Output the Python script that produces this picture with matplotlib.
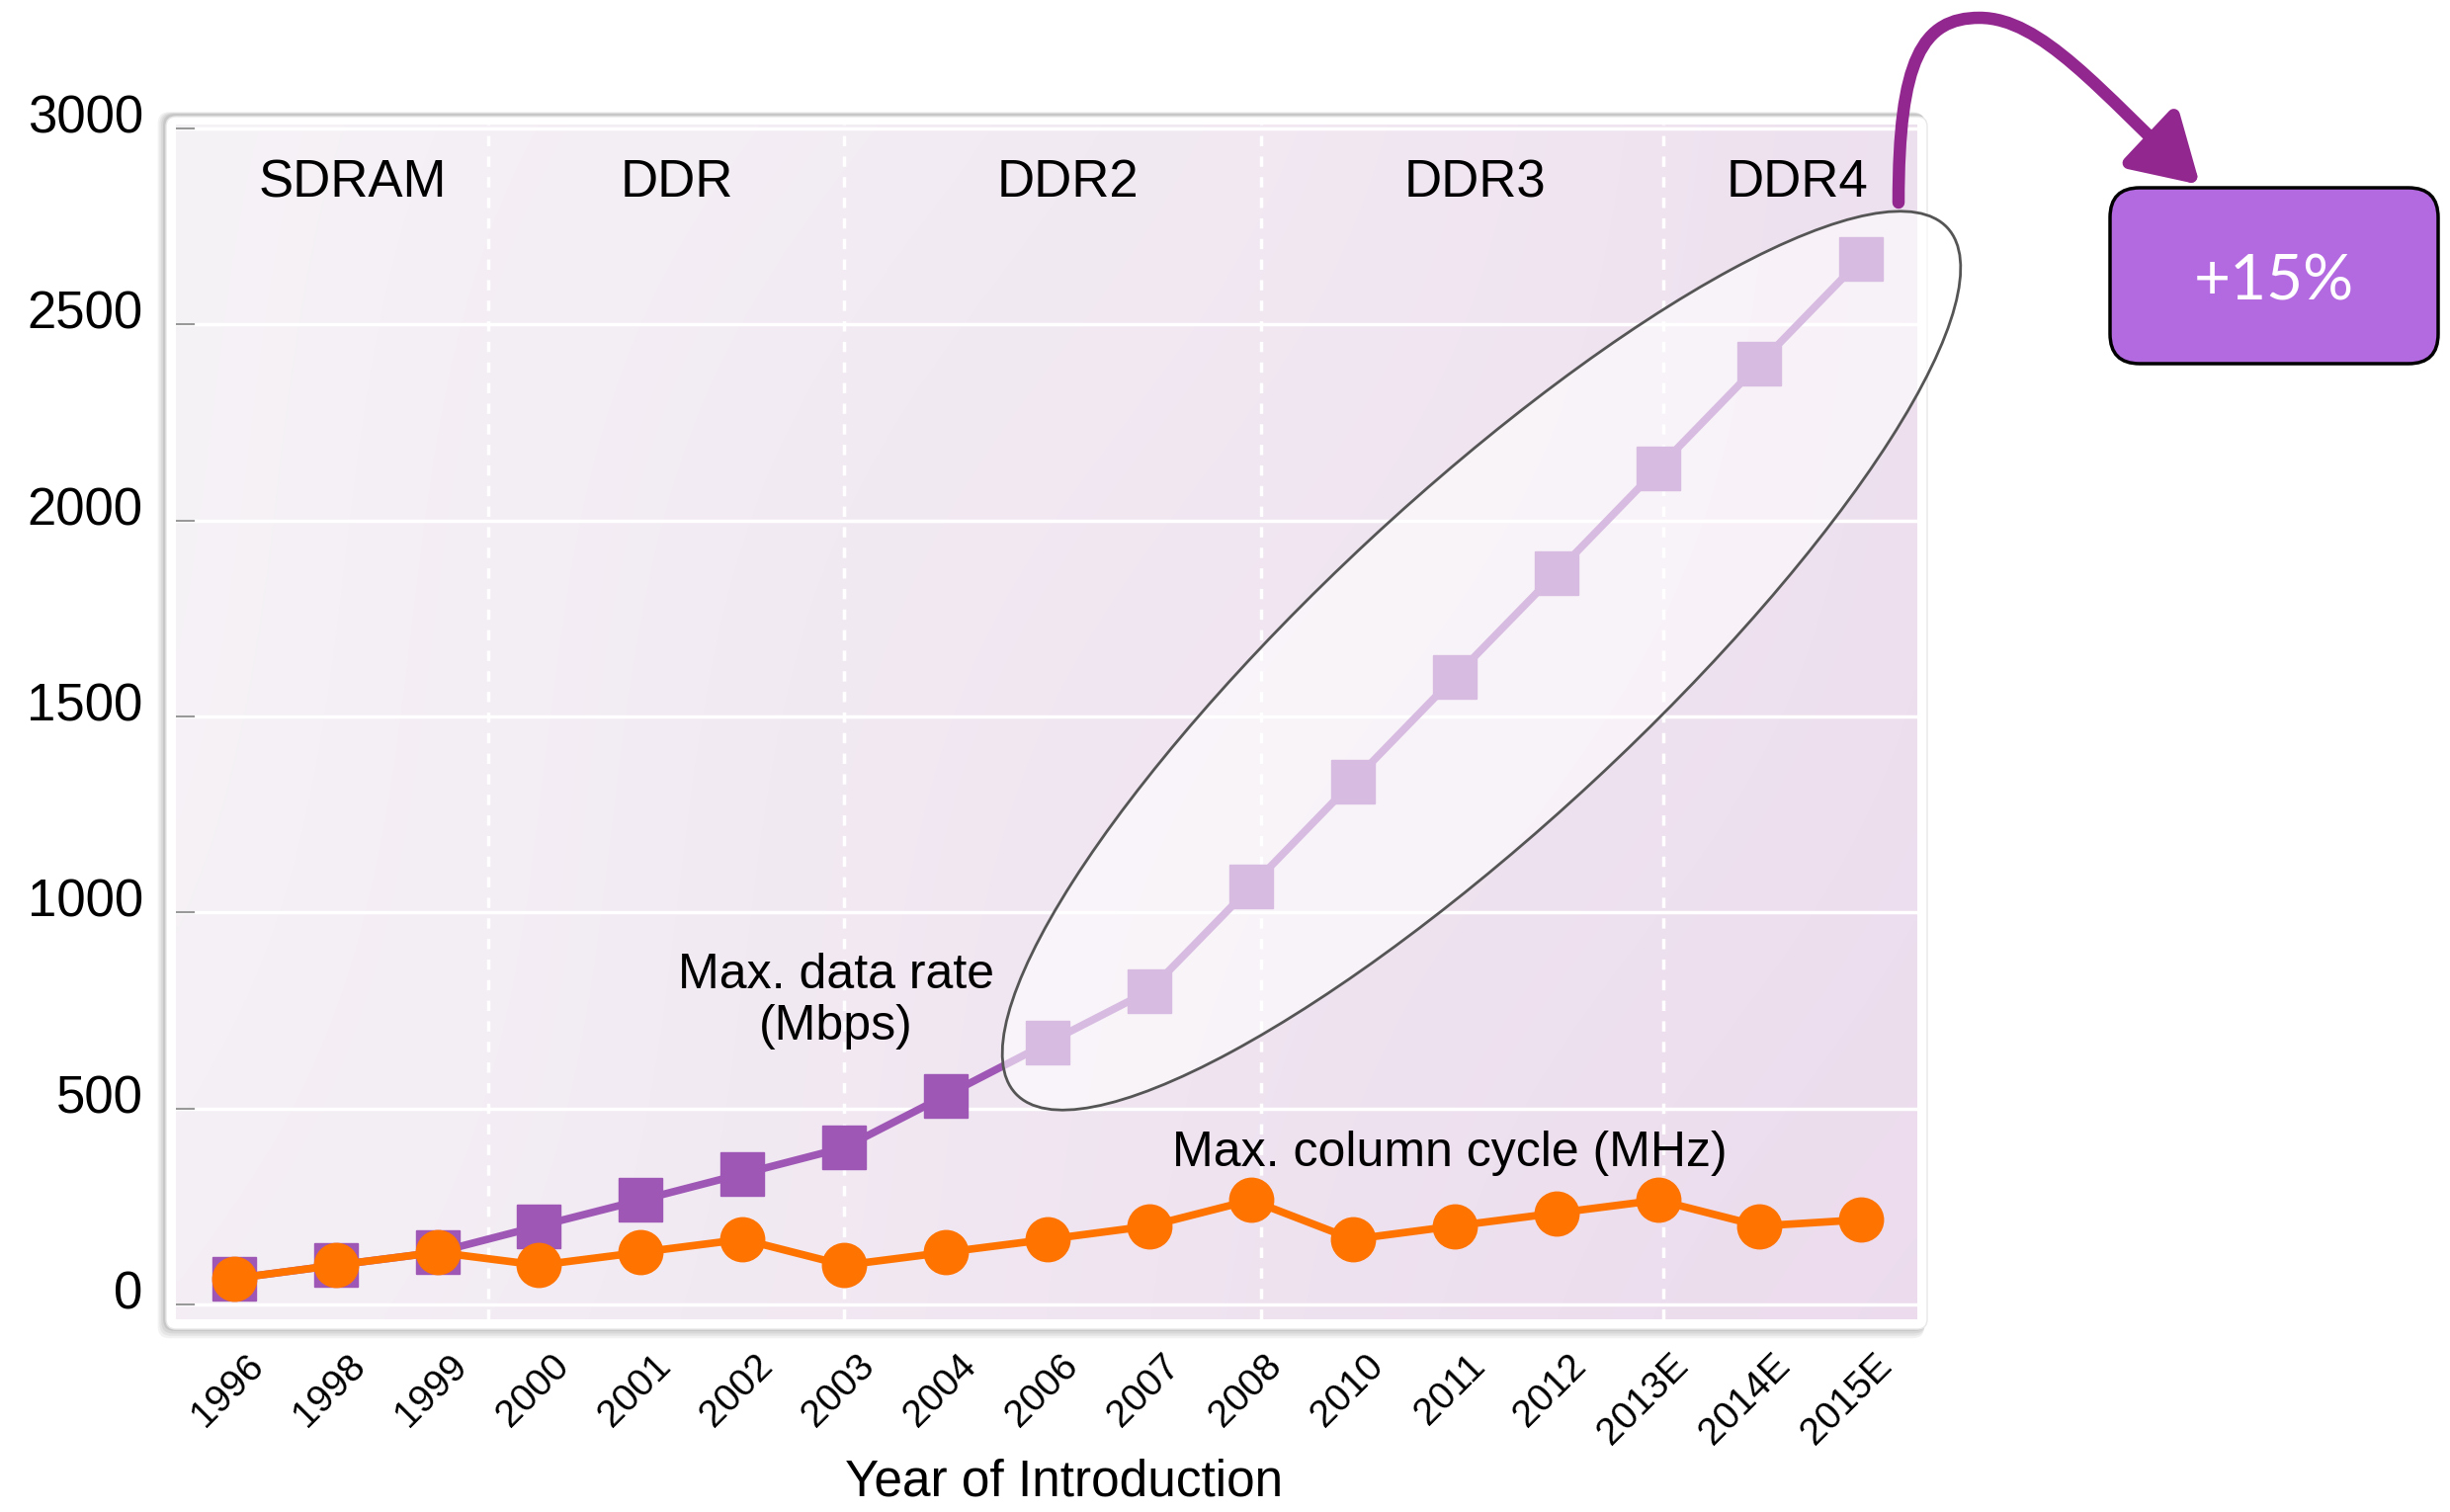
import numpy as np
import matplotlib.pyplot as plt
from matplotlib.patches import Ellipse, FancyBboxPatch, FancyArrowPatch
from matplotlib.path import Path
from matplotlib.transforms import ScaledTranslation

plt.rcParams['font.family'] = ['Liberation Sans', 'DejaVu Sans']

# data
years = ['1996', '1998', '1999', '2000', '2001', '2002', '2003', '2004', '2006',
         '2007', '2008', '2010', '2011', '2012', '2013E', '2014E', '2015E']
data_rate = [66, 100, 133, 200, 266, 333, 400, 533, 667, 800, 1066, 1333, 1600,
             1866, 2133, 2400, 2667]
col_cycle = [66, 100, 133, 100, 133, 166, 100, 133, 166, 200, 266, 166, 200,
             233, 266, 200, 216]
generations = ['SDRAM', 'DDR', 'DDR2', 'DDR3', 'DDR4']
gen_pos = [1.17, 4.35, 8.2, 12.2, 15.37]
gen_bounds = [2.5, 6.0, 10.1, 14.05]
yticks = [0, 500, 1000, 1500, 2000, 2500, 3000]

W, H = 2479, 1530
fig = plt.figure(figsize=(W / 100, H / 100), dpi=100)
inch = fig.dpi_scale_trans


def px(x, y):
    # pixel (from top-left) -> inches (from bottom-left)
    return x / 100, (H - y) / 100


ax_l, ax_r, ax_t, ax_b = 178, 1940, 126, 1335
ax = fig.add_axes([ax_l / W, 1 - ax_b / H, (ax_r - ax_l) / W, (ax_b - ax_t) / H])

# panel frame + soft shadow
for i, a in enumerate([0.05, 0.05, 0.06, 0.07]):
    g = 14 - 3 * i
    fig.add_artist(FancyBboxPatch(px(ax_l - 10 - g * 0.6, ax_b + 8 + g * 0.8),
                                  (ax_r - ax_l + 20 + g * 0.4) / 100,
                                  (ax_b - ax_t + 18 + g) / 100,
                                  boxstyle='round,pad=0,rounding_size=0.12',
                                  transform=inch, fc='black', ec='none',
                                  alpha=a, zorder=-3))
fig.add_artist(FancyBboxPatch(px(ax_l - 10, ax_b + 10), (ax_r - ax_l + 20) / 100,
                              (ax_b - ax_t + 18) / 100,
                              boxstyle='round,pad=0,rounding_size=0.1',
                              transform=inch, fc='white', ec='#e8e8e8', lw=1, zorder=-2))

xlim = (-0.57, 16.55)
ylim = (-38, 3010)
x = np.arange(len(years))

# background gradient
nx, ny = 300, 150
gx, gy = np.meshgrid(np.linspace(0, 1, nx), np.linspace(1, 0, ny))
t = np.clip(0.8 * gx + 0.2 * (1 - gy) - 0.03 * np.sin(gx * 6 + gy * 4), 0, 1)
c0 = np.array([0.965, 0.955, 0.968])
c1 = np.array([0.925, 0.862, 0.930])
img = c0 + (c1 - c0) * t[..., None]
ax.imshow(img, extent=[xlim[0], xlim[1], ylim[0], ylim[1]], aspect='auto',
          zorder=0, interpolation='bilinear')

for yv in yticks:
    ax.axhline(yv, color='white', lw=2.5, zorder=1)
for b in gen_bounds:
    ax.axvline(b, color='white', lw=2.5, ls=(0, (3, 3)), zorder=1)

ax.plot(x, data_rate, color='#9e57b5', lw=5.5, marker='s', ms=31, zorder=3)
ax.plot(x, col_cycle, color='#ff7300', lw=5.5, marker='o', ms=32, zorder=4)

for name, p in zip(generations, gen_pos):
    ax.text(p, 2861, name, ha='center', va='center', fontsize=38, zorder=5)

ax.text(5.92, 774, 'Max. data rate\n(Mbps)', ha='center', va='center',
        fontsize=36, linespacing=1.15, zorder=5)
ax.text(11.95, 386, 'Max. column cycle (MHz)', ha='center', va='center',
        fontsize=36, zorder=5)

ax.set_xlim(*xlim)
ax.set_ylim(*ylim)
for s in ax.spines.values():
    s.set_visible(False)

ax.set_yticks(yticks)
ax.tick_params(axis='y', direction='in', length=14, width=1.5, color='#999999',
               pad=24, labelsize=38)
for lbl in ax.get_yticklabels():
    lbl.set_transform(lbl.get_transform() + ScaledTranslation(0, 0.15, inch))

ax.set_xticks(x)
ax.set_xticklabels(years, rotation=45, ha='right', va='center',
                   rotation_mode='anchor', fontsize=28)
ax.tick_params(axis='x', length=0, pad=30)
for lbl in ax.get_xticklabels():
    lbl.set_transform(lbl.get_transform() + ScaledTranslation(0.25, 0, inch))

fig.text(1077 / W, 1 - 1500 / H, 'Year of Introduction', ha='center', va='center',
         fontsize=37)

# highlight ellipse
fig.add_artist(Ellipse(px(1499, 668.5), 12.87, 3.33, angle=42.9, transform=inch,
                       fc=(1, 1, 1, 0.6), ec='#555555', lw=2, zorder=5))

# curved arrow to the box
verts = [(1921, 205), (1921, 60), (1945, 18), (2003, 18),
         (2065, 18), (2125, 92), (2226, 187)]
codes = [Path.MOVETO] + [Path.CURVE4] * 6
arrow_path = Path([px(*v) for v in verts], codes)
fig.add_artist(FancyArrowPatch(path=arrow_path, transform=inch,
                               arrowstyle='-|>,head_length=1.0,head_width=0.6',
                               mutation_scale=40, color='#92278f', lw=9,
                               shrinkA=0, shrinkB=0, zorder=6))

fig.add_artist(FancyBboxPatch(px(2135, 368), 3.32, 1.78,
                              boxstyle='round,pad=0,rounding_size=0.3',
                              transform=inch, fc='#b36ae0', ec='black', lw=2.5,
                              zorder=6))
fig.text(*px(2301, 286), '+15%', transform=inch, ha='center', va='center',
         color='white', fontsize=46, family='Lato', zorder=7)

fig.savefig('out.png', dpi=100)
